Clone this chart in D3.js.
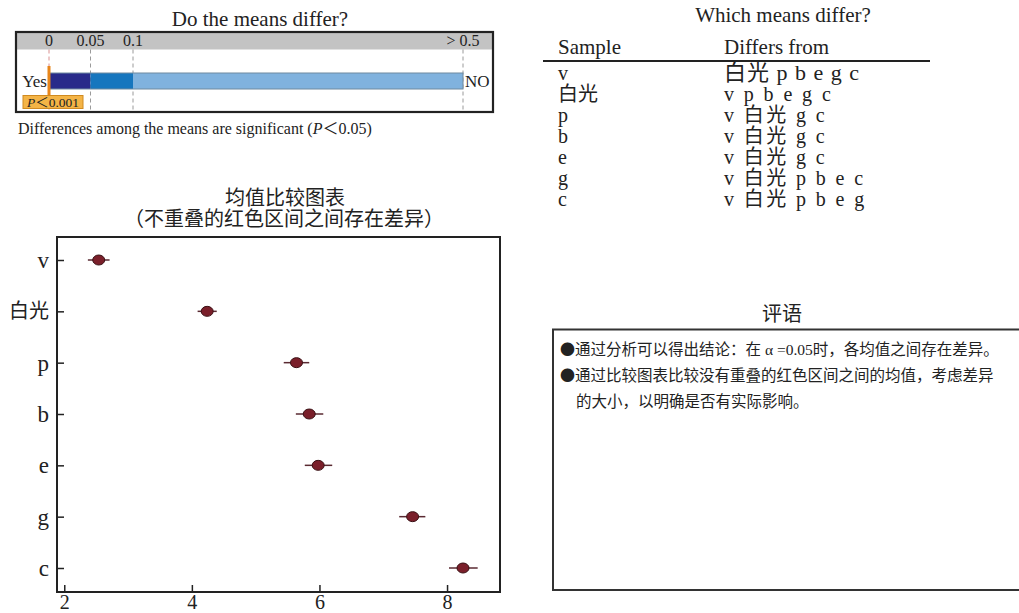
<!DOCTYPE html>
<html><head><meta charset="utf-8">
<script src="https://cdn.jsdelivr.net/npm/d3@7"></script>
<style>
body{margin:0;background:#fff;}
svg{display:block;}
text{font-family:"Liberation Serif","Noto Sans CJK SC",serif;fill:#222;}
</style></head>
<body>
<svg id="c" width="1019" height="613"></svg>
<script>
// ---------- data ----------
const categories = ["v","白光","p","b","e","g","c"];
const means  = [2.54, 4.24, 5.64, 5.84, 5.98, 7.46, 8.25];
const lower  = [2.37, 4.09, 5.44, 5.63, 5.77, 7.25, 8.03];
const upper  = [2.71, 4.39, 5.84, 6.06, 6.20, 7.66, 8.48];
const xTicks = [2, 4, 6, 8];

const pBreaks = [0, 0.05, 0.1, 0.5];
const pLabels = ["0", "0.05", "0.1", "> 0.5"];
const pColors = ["#282a8a", "#1676be", "#80b2de"];
const pValueLabel = "P＜0.001";

const tableSamples = ["v","白光","p","b","e","g","c"];
const tableDiffers = [
  ["白光","p","b","e","g","c"],
  ["v","p","b","e","g","c"],
  ["v","白光","g","c"],
  ["v","白光","g","c"],
  ["v","白光","g","c"],
  ["v","白光","p","b","e","c"],
  ["v","白光","p","b","e","g"]
];

const comments = [
  "通过分析可以得出结论：在 α =0.05时，各均值之间存在差异。",
  "通过比较图表比较没有重叠的红色区间之间的均值，考虑差异",
  "的大小，以明确是否有实际影响。"
];
const commentBullet = [true, true, false];

const svg = d3.select("#c");

// ---------- top-left: Do the means differ? ----------
const gTop = svg.append("g");
gTop.append("text").attr("x", 260).attr("y", 26).attr("text-anchor","middle")
  .attr("font-size", 21).text("Do the means differ?");
const box = {x:16, y:32, w:477, h:80, head:17.5};
gTop.append("rect").attr("x",box.x).attr("y",box.y).attr("width",box.w).attr("height",box.h)
  .attr("fill","#fff");
gTop.append("rect").attr("x",box.x).attr("y",box.y).attr("width",box.w).attr("height",box.head)
  .attr("fill","#c3c3c3");
const px = d3.scaleLinear().domain(pBreaks).range([49, 90.5, 133, 463]);
gTop.selectAll("line.pd").data(pBreaks).join("line").attr("class","pd")
  .attr("x1",d=>px(d)).attr("x2",d=>px(d)).attr("y1",box.y+box.head).attr("y2",box.y+box.h)
  .attr("stroke",(d,i)=> i===0 ? "#d99090" : "#9a9a9a").attr("stroke-width",1)
  .attr("stroke-dasharray","4,3");
gTop.selectAll("text.pl").data(pBreaks).join("text").attr("class","pl")
  .attr("x",d=>px(d)).attr("y",46).attr("text-anchor","middle")
  .attr("font-size",16).text((d,i)=>pLabels[i]);
const segs = d3.pairs(pBreaks);
gTop.selectAll("rect.seg").data(segs).join("rect").attr("class","seg")
  .attr("x",d=>px(d[0])).attr("width",d=>px(d[1])-px(d[0])).attr("y",73).attr("height",16)
  .attr("fill",(d,i)=>pColors[i]);
gTop.append("rect").attr("x",px(0)).attr("width",px(0.5)-px(0)).attr("y",73).attr("height",16)
  .attr("fill","none").attr("stroke","#6f8aa0").attr("stroke-width",1);
gTop.append("rect").attr("x",box.x).attr("y",box.y).attr("width",box.w).attr("height",box.h)
  .attr("fill","none").attr("stroke","#222").attr("stroke-width",2.2);
gTop.append("text").attr("x",47).attr("y",87).attr("text-anchor","end").attr("font-size",17).text("Yes");
gTop.append("text").attr("x",465).attr("y",87).attr("font-size",17).text("NO");
// p-value marker
gTop.append("rect").attr("x",px(0)-1.5).attr("y",66).attr("width",3).attr("height",30).attr("fill","#e8861a");
gTop.append("rect").attr("x",23).attr("y",95.5).attr("width",60).attr("height",13)
  .attr("fill","#f4b446").attr("stroke","#d08a20").attr("stroke-width",1);
const pt = gTop.append("text").attr("x",53).attr("y",106.5).attr("text-anchor","middle").attr("font-size",13.5);
pt.append("tspan").attr("font-style","italic").text(pValueLabel.slice(0,1));
pt.append("tspan").text(pValueLabel.slice(1));
const st = gTop.append("text").attr("x",18).attr("y",134).attr("font-size",16);
st.append("tspan").text("Differences among the means are significant (");
st.append("tspan").attr("font-style","italic").text("P");
st.append("tspan").text("＜0.05)");

// ---------- top-right: Which means differ? ----------
const tb = svg.append("g");
tb.append("text").attr("x",783).attr("y",22).attr("text-anchor","middle").attr("font-size",21).text("Which means differ?");
tb.append("text").attr("x",558).attr("y",54).attr("font-size",21).text("Sample");
tb.append("text").attr("x",724).attr("y",54).attr("font-size",21).text("Differs from");
tb.append("line").attr("x1",543).attr("x2",930).attr("y1",61).attr("y2",61).attr("stroke","#222").attr("stroke-width",2);
const rowY = d3.scalePoint().domain(d3.range(tableSamples.length)).range([80, 206]);
tb.selectAll("text.ts").data(tableSamples).join("text").attr("class","ts")
  .attr("x",558).attr("y",(d,i)=>rowY(i)).attr("font-size",20).text(d=>d);
tb.selectAll("text.td").data(tableDiffers).join("text").attr("class","td")
  .attr("x",724).attr("y",(d,i)=>rowY(i)).attr("font-size",(d,i)=> i===0 ? 22 : 20)
  .attr("letter-spacing",(d,i)=> i===0 ? 1 : 2.4)
  .text(d=>d.join(" "));

// ---------- bottom-left: means comparison chart ----------
const frame = {l:57, t:237, r:500, b:592};
const x = d3.scaleLinear().domain([1.886, 8.83]).range([frame.l, frame.r]);
const y = d3.scalePoint().domain(categories).range([260, 568]);
const ch = svg.append("g");
ch.append("text").attr("x",285).attr("y",205).attr("text-anchor","middle").attr("font-size",20).text("均值比较图表");
ch.append("text").attr("x",284).attr("y",226).attr("text-anchor","middle").attr("font-size",20).text("（不重叠的红色区间之间存在差异）");

const xa = ch.append("g").attr("transform",`translate(0,${frame.b})`)
  .call(d3.axisBottom(x).tickValues(xTicks).tickSizeInner(-7).tickSizeOuter(0).tickPadding(3).tickFormat(d3.format("d")));
xa.select(".domain").remove();
xa.selectAll("line").attr("stroke","#222").attr("stroke-width",1.5);
xa.selectAll("text").attr("font-size",20).attr("fill","#222").attr("font-family",null);
const ya = ch.append("g").attr("transform",`translate(${frame.l},0)`)
  .call(d3.axisLeft(y).tickSizeInner(-7).tickSizeOuter(0).tickPadding(8));
ya.select(".domain").remove();
ya.selectAll("line").attr("stroke","#222").attr("stroke-width",1.5);
ya.selectAll("text").attr("font-size",d=> /[a-z]/.test(d) ? 23 : 20).attr("fill","#222").attr("font-family",null);
ch.append("rect").attr("x",frame.l).attr("y",frame.t).attr("width",frame.r-frame.l).attr("height",frame.b-frame.t)
  .attr("fill","none").attr("stroke","#222").attr("stroke-width",2);

const pts = categories.map((c,i)=>({c, m:means[i], lo:lower[i], hi:upper[i]}));
ch.selectAll("line.ci").data(pts).join("line").attr("class","ci")
  .attr("x1",d=>x(d.lo)).attr("x2",d=>x(d.hi)).attr("y1",d=>y(d.c)).attr("y2",d=>y(d.c))
  .attr("stroke","#5a2a32").attr("stroke-width",1.5);
ch.selectAll("ellipse.pt").data(pts).join("ellipse").attr("class","pt")
  .attr("cx",d=>x(d.m)).attr("cy",d=>y(d.c)).attr("rx",6).attr("ry",5)
  .attr("fill","#7a1f2a").attr("stroke","#3a1014").attr("stroke-width",1);

// ---------- bottom-right: comments ----------
const cm = svg.append("g");
cm.append("text").attr("x",782).attr("y",321).attr("text-anchor","middle").attr("font-size",20).text("评语");
cm.append("rect").attr("x",553).attr("y",329.5).attr("width",480).attr("height",260.5)
  .attr("fill","none").attr("stroke","#333").attr("stroke-width",2);
const lineY = [355, 381, 407];
const ct = cm.selectAll("text.cmt").data(comments).join("text").attr("class","cmt")
  .attr("x",(d,i)=> commentBullet[i] ? 561 : 576).attr("y",(d,i)=>lineY[i]).attr("font-size",15.5);
ct.filter((d,i)=>commentBullet[i]).append("tspan").attr("font-family","Noto Sans CJK SC").attr("font-size",15).attr("dx",-1).text("●");
ct.append("tspan").text(d=>d);
</script>
</body></html>
